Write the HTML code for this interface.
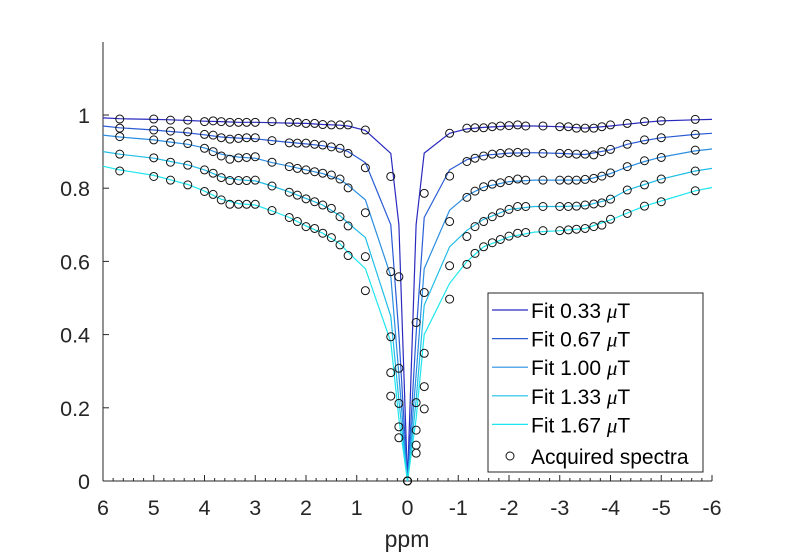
<!DOCTYPE html>
<html><head><meta charset="utf-8"><style>
html,body{margin:0;padding:0;background:#fff;}
svg{display:block;font-family:"Liberation Sans",Arial,sans-serif;}
</style></head><body>
<svg id="chart" width="788" height="554" viewBox="0 0 788 554">
<g id="axes"></g>
<g id="lines"></g>
<g id="marks"></g>
<g id="legend"></g>
</svg>
<script>
const offsets = [5.67,5,4.67,4.33,4,3.83,3.67,3.5,3.33,3.17,3,2.67,2.33,2.17,2,1.83,1.67,1.5,1.33,1.17,0.83,0.33,0.17,0,-0.17,-0.33,-0.83,-1.17,-1.33,-1.5,-1.67,-1.83,-2,-2.17,-2.33,-2.67,-3,-3.17,-3.33,-3.5,-3.67,-3.83,-4,-4.33,-4.67,-5,-5.67];
const acq1 = [.989,.989,.986,.986,.982,.984,.982,.980,.980,.980,.980,.982,.980,.980,.977,.977,.974,.973,.973,.973,.959,.832,.558,0,.433,.786,.950,.964,.965,.965,.968,.970,.971,.973,.970,.970,.968,.968,.964,.964,.964,.968,.973,.977,.982,.984,.988];
const acq2 = [.964,.959,.956,.954,.947,.945,.938,.934,.936,.938,.938,.930,.924,.923,.923,.920,.918,.913,.909,.895,.856,.572,.308,0,.214,.515,.833,.873,.882,.888,.893,.895,.897,.898,.897,.895,.895,.895,.893,.893,.891,.900,.906,.920,.932,.938,.947];
const acq3 = [.941,.932,.925,.922,.909,.900,.888,.879,.883,.884,.886,.871,.859,.854,.850,.845,.841,.836,.825,.801,.733,.394,.212,0,.139,.349,.709,.775,.792,.804,.811,.815,.821,.825,.822,.822,.822,.822,.822,.824,.827,.833,.842,.859,.875,.884,.904];
const acq4 = [.893,.883,.871,.863,.850,.841,.829,.821,.821,.821,.822,.806,.789,.781,.771,.763,.754,.745,.722,.697,.613,.296,.148,0,.098,.258,.588,.668,.695,.709,.722,.733,.742,.750,.750,.750,.750,.750,.751,.754,.757,.760,.770,.795,.809,.825,.847];
const acq5 = [.847,.832,.822,.809,.791,.783,.768,.756,.756,.756,.756,.739,.720,.709,.695,.690,.677,.665,.645,.616,.520,.232,.118,0,.076,.197,.497,.592,.622,.640,.651,.660,.669,.677,.679,.684,.684,.686,.688,.690,.695,.699,.715,.731,.751,.763,.793];
const fitOffsets = [6,5.67,5,4.67,4.33,4,3.67,3.33,3,2.67,2.33,2,1.67,1.33,1.17,0.83,0.33,0.17,0,-0.17,-0.33,-0.83,-1.17,-1.5,-2,-2.5,-3,-3.5,-4,-4.33,-4.67,-5,-5.67,-6];
const fit1 = [.992,.990,.988,.987,.985,.983,.982,.980,.980,.979,.978,.977,.974,.972,.970,.958,.895,.70,0,.70,.896,.950,.962,.966,.970,.970,.968,.964,.970,.975,.980,.984,.987,.988];
const fit2 = [.970,.965,.959,.955,.951,.946,.940,.937,.935,.930,.925,.921,.916,.908,.900,.870,.70,.40,0,.40,.72,.850,.878,.890,.896,.897,.895,.892,.905,.920,.930,.938,.947,.950];
const fit3 = [.945,.940,.932,.926,.920,.910,.893,.885,.882,.870,.860,.850,.840,.824,.808,.768,.56,.29,0,.29,.58,.740,.780,.803,.818,.822,.822,.822,.840,.858,.873,.885,.902,.907];
const fit4 = [.900,.893,.882,.873,.864,.850,.831,.823,.820,.806,.790,.772,.754,.725,.705,.665,.45,.22,0,.22,.48,.640,.685,.715,.742,.750,.750,.752,.770,.795,.810,.825,.847,.854];
const fit5 = [.860,.850,.835,.823,.810,.792,.770,.758,.754,.738,.720,.697,.677,.648,.625,.580,.38,.17,0,.17,.40,.540,.600,.640,.667,.680,.684,.690,.713,.732,.751,.765,.793,.802];
const seriesNames = ["Fit 0.33","Fit 0.67","Fit 1.00","Fit 1.33","Fit 1.67"];
const xTicks = [6,5,4,3,2,1,0,-1,-2,-3,-4,-5,-6];
const xTickLabels = ["6","5","4","3","2","1","0","-1","-2","-3","-4","-5","-6"];
const yTicks = [0,0.2,0.4,0.6,0.8,1];
const yTickLabels = ["0","0.2","0.4","0.6","0.8","1"];

const colors = ["#2a2ac0","#2a5cd6","#2a8ee2","#1fbde6","#1ee6ee"];
const X0=103, X1=712, Y0=481, YTOP=42;
const xs = v => X0 + (6 - v) * (X1 - X0) / 12;
const ys = v => Y0 - v * 366;
const NS="http://www.w3.org/2000/svg";
function mk(tag, attrs, parent){const e=document.createElementNS(NS,tag);for(const k in attrs)e.setAttribute(k,attrs[k]);parent.appendChild(e);return e;}
const axes=document.getElementById('axes');
let e;
e=mk('line',{x1:X0,y1:YTOP,x2:X0,y2:Y0,stroke:'#262626','stroke-width':1},axes);


e=mk('line',{x1:X0,y1:Y0,x2:X1,y2:Y0,stroke:'#262626','stroke-width':1},axes);


for(let k=0;k<=60;k++){
  const v=6-k*0.2; const major=(k%5===0);
  e=mk('line',{x1:xs(v),y1:Y0,x2:xs(v),y2:Y0-(major?6:3),stroke:'#262626','stroke-width':1},axes);
  
  
}
xTicks.forEach((v,i)=>{
  e=mk('text',{x:xs(v),y:515,'text-anchor':'middle','font-size':21.5,fill:'#262626'},axes);
  e.textContent=xTickLabels[i];
  
  
});
yTicks.forEach((v,i)=>{
  e=mk('line',{x1:X0,y1:ys(v),x2:X0+6,y2:ys(v),stroke:'#262626','stroke-width':1},axes);
  
  
  e=mk('text',{x:90,y:ys(v)+8,'text-anchor':'end','font-size':21.5,fill:'#262626'},axes);
  e.textContent=yTickLabels[i];
  
  
});
e=mk('text',{x:407,y:547,'text-anchor':'middle','font-size':23,fill:'#262626'},axes);
e.textContent='ppm';



const fits=[fit1,fit2,fit3,fit4,fit5];
const acqs=[acq1,acq2,acq3,acq4,acq5];
const lg=document.getElementById('lines');
fits.forEach((f,si)=>{
  const pts=fitOffsets.map((o,i)=>xs(o).toFixed(1)+','+ys(f[i]).toFixed(1)).join(' ');
  e=mk('polyline',{points:pts,fill:'none',stroke:colors[si],'stroke-width':1.2},lg);
  
  
});
const mg=document.getElementById('marks');
acqs.forEach((a,si)=>{
  offsets.forEach((o,i)=>{
    e=mk('circle',{cx:xs(o),cy:ys(a[i]),r:4,fill:'none',stroke:'#111','stroke-width':1},mg);
    
    
  });
});
const leg=document.getElementById('legend');
e=mk('rect',{x:488,y:293,width:215,height:179,fill:'#fff',stroke:'#262626','stroke-width':1},leg);


seriesNames.forEach((n,i)=>{
  const y=310+i*28.6;
  e=mk('line',{x1:492,y1:y,x2:528,y2:y,stroke:colors[i],'stroke-width':1.2},leg);
  
  
  e=mk('text',{x:531,y:y+8,'font-size':21,fill:'#000'},leg);
  e.innerHTML=n+' <tspan font-family="Liberation Serif, serif" font-style="italic">μ</tspan>T';
  
  
});
e=mk('circle',{cx:510,cy:456,r:4,fill:'none',stroke:'#111','stroke-width':1},leg);


e=mk('text',{x:531,y:464,'font-size':21,fill:'#000'},leg);
e.textContent='Acquired spectra';


</script>
</body></html>
